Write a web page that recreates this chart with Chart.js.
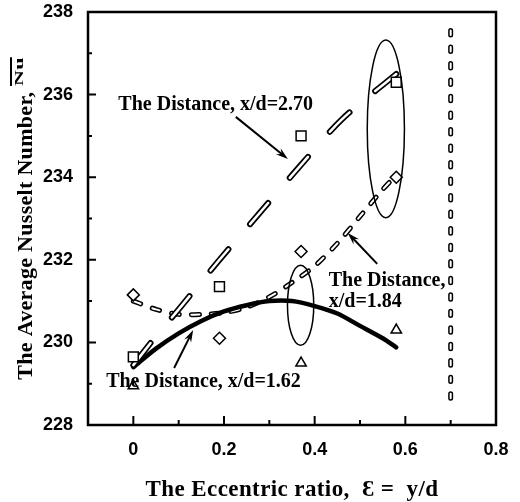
<!DOCTYPE html>
<html>
<head>
<meta charset="utf-8">
<script src="https://cdn.jsdelivr.net/npm/chart.js@4.4.1/dist/chart.umd.min.js"></script>
<style>
  html, body { margin: 0; padding: 0; background: #fff; }
</style>
</head>
<body>
<canvas id="myChart" width="520" height="502"></canvas>
<script>
// eccentric ratio of the measured cases
const ratioX = [0, 0.19, 0.37, 0.58];
const triX = [0, 0.37, 0.58];

// measured average Nusselt numbers
const nu270 = [229.65, 231.35, 235.0, 236.3];   // x/d = 2.70 (squares)
const nu184 = [231.15, 230.1, 232.2, 234.0];    // x/d = 1.84 (diamonds)
const nu162 = [228.95, 229.5, 230.3];           // x/d = 1.62 (triangles)

// fitted curves
const fitX270 = [0, 0.05, 0.1, 0.19, 0.28, 0.37, 0.46, 0.58];
const fit270 = [229.45, 230.15, 230.8, 232.0, 233.15, 234.3, 235.4, 236.5];
const fitX = [0, 0.05, 0.1, 0.15, 0.2, 0.25, 0.3, 0.35, 0.4, 0.45, 0.5, 0.55, 0.58];
const fit184 = [231.0, 230.8, 230.68, 230.68, 230.72, 230.85, 231.1, 231.45, 231.85, 232.4, 233.05, 233.7, 234.05];
const fit162 = [229.4, 229.85, 230.22, 230.52, 230.75, 230.9, 231.0, 231.0, 230.88, 230.7, 230.4, 230.1, 229.88];

// limit line at y/d = 0.7
const limitX = [0.7, 0.7];
const limitY = [237.55, 228.5];

// axis ticks
const xTicks = [0, 0.2, 0.4, 0.6, 0.8];
const xMinor = [0.1, 0.3, 0.5, 0.7];
const yTicks = [228, 230, 232, 234, 236, 238];
const yMinor = [229, 231, 233, 235, 237];

const xTitle = 'The Eccentric ratio,  \u0190 =  y/d';
const yTitle = 'The Average Nusselt Number, ';
const yTitleSym = 'Nu';

const pts = (xs, ys) => xs.map((v, i) => ({x: v, y: ys[i]}));
const serif = '"Liberation Serif", "Times New Roman", serif';

// outlined dashes: a wide black stroke with a narrow white one on top
function outlinedLine(data, dash, outer, inner, order) {
    const base = {
        data: data, showLine: true, pointRadius: 0, tension: 0.3,
        borderCapStyle: 'round', borderDash: dash, fill: false
    };
    return [
        Object.assign({}, base, {borderColor: '#000', borderWidth: outer, order: order + 1}),
        Object.assign({}, base, {borderColor: '#fff', borderWidth: inner, order: order})
    ];
}

// annotations, in data units
const notes = [
    {text: 'The Distance, x/d=2.70', x: -0.033, y: 235.63},
    {text: 'The Distance,', x: 0.431, y: 231.37},
    {text: 'x/d=1.84', x: 0.431, y: 230.86},
    {text: 'The Distance, x/d=1.62', x: -0.06, y: 228.92}
];
const arrows = [
    {from: [0.226, 235.46], to: [0.341, 234.44]},
    {from: [0.538, 231.9], to: [0.473, 232.65]},
    {from: [0.09, 229.38], to: [0.132, 230.3]}
];
const rings = [
    {x: 0.557, y: 235.17, rx: 0.041, ry: 2.15},
    {x: 0.369, y: 230.9, rx: 0.029, ry: 0.97}
];

const decorations = {
    id: 'decorations',
    afterDraw(chart) {
        const {ctx, chartArea: a, scales: {x, y}} = chart;
        ctx.save();
        ctx.strokeStyle = '#000';
        ctx.fillStyle = '#000';

        // frame
        ctx.lineWidth = 2.5;
        ctx.strokeRect(a.left, a.top, a.right - a.left, a.bottom - a.top);

        // inward tick marks
        ctx.lineWidth = 2;
        ctx.beginPath();
        xTicks.forEach(v => { const p = x.getPixelForValue(v); ctx.moveTo(p, a.bottom); ctx.lineTo(p, a.bottom - 9); });
        xMinor.forEach(v => { const p = x.getPixelForValue(v); ctx.moveTo(p, a.bottom); ctx.lineTo(p, a.bottom - 5); });
        yTicks.forEach(v => { const p = y.getPixelForValue(v); ctx.moveTo(a.left, p); ctx.lineTo(a.left + 8, p); });
        yMinor.forEach(v => { const p = y.getPixelForValue(v); ctx.moveTo(a.left, p); ctx.lineTo(a.left + 4, p); });
        ctx.stroke();

        // ellipses round the groups
        ctx.lineWidth = 1.5;
        rings.forEach(r => {
            const cx = x.getPixelForValue(r.x), cy = y.getPixelForValue(r.y);
            const rx = Math.abs(x.getPixelForValue(r.x + r.rx) - cx);
            const ry = Math.abs(y.getPixelForValue(r.y + r.ry) - cy);
            ctx.beginPath();
            ctx.ellipse(cx, cy, rx, ry, 0, 0, Math.PI * 2);
            ctx.stroke();
        });

        // arrows
        ctx.lineWidth = 2;
        arrows.forEach(ar => {
            const x0 = x.getPixelForValue(ar.from[0]), y0 = y.getPixelForValue(ar.from[1]);
            const x1 = x.getPixelForValue(ar.to[0]), y1 = y.getPixelForValue(ar.to[1]);
            const ang = Math.atan2(y1 - y0, x1 - x0);
            ctx.beginPath();
            ctx.moveTo(x0, y0);
            ctx.lineTo(x1 - 6 * Math.cos(ang), y1 - 6 * Math.sin(ang));
            ctx.stroke();
            ctx.beginPath();
            ctx.moveTo(x1, y1);
            ctx.lineTo(x1 - 13 * Math.cos(ang - 0.3), y1 - 13 * Math.sin(ang - 0.3));
            ctx.lineTo(x1 - 8 * Math.cos(ang), y1 - 8 * Math.sin(ang));
            ctx.lineTo(x1 - 13 * Math.cos(ang + 0.3), y1 - 13 * Math.sin(ang + 0.3));
            ctx.closePath();
            ctx.fill();
        });

        // annotation labels
        ctx.font = 'bold 20px ' + serif;
        ctx.textAlign = 'left';
        ctx.textBaseline = 'alphabetic';
        notes.forEach(n => ctx.fillText(n.text, x.getPixelForValue(n.x), y.getPixelForValue(n.y)));

        // x axis title
        ctx.font = 'bold 23px ' + serif;
        ctx.letterSpacing = '0.4px';
        ctx.textAlign = 'center';
        ctx.fillText(xTitle, (a.left + a.right) / 2, 496);

        // y axis title, with the overlined symbol at its end
        ctx.translate(32, (a.top + a.bottom) / 2);
        ctx.rotate(-Math.PI / 2);
        ctx.font = 'bold 22px ' + serif;
        ctx.letterSpacing = '0.3px';
        const wMain = ctx.measureText(yTitle).width;
        const wSym = ctx.measureText(yTitleSym).width;
        const start = -(wMain + wSym) / 2;
        ctx.textAlign = 'left';
        ctx.fillText(yTitle, start, 0);
        ctx.save();
        ctx.translate(start + wMain, -9);
        ctx.scale(1, 0.6);
        ctx.fillText(yTitleSym, 0, 0);
        ctx.restore();
        ctx.fillRect(start + wMain, -22, wSym, 2);

        ctx.restore();
    }
};

const tickFont = {family: '"Liberation Sans", Arial, sans-serif', weight: 'bold', size: 18};

new Chart(document.getElementById('myChart'), {
    type: 'scatter',
    data: {
        datasets: [
            {data: pts(ratioX, nu270), pointStyle: 'rect', pointRadius: 7, borderColor: '#000', backgroundColor: '#fff', borderWidth: 1.5, order: 1},
            {data: pts(ratioX, nu184), pointStyle: 'rectRot', pointRadius: 6, borderColor: '#000', backgroundColor: '#fff', borderWidth: 1.5, order: 1},
            {data: pts(triX, nu162), pointStyle: 'triangle', pointRadius: 6, borderColor: '#000', backgroundColor: '#fff', borderWidth: 1.5, order: 1},
            {data: pts(fitX, fit162), showLine: true, pointRadius: 0, tension: 0.3, borderColor: '#000', borderWidth: 4.5, borderCapStyle: 'round', order: 4},
            ...outlinedLine(pts(fitX270, fit270), [28, 33], 6, 2.5, 2),
            ...outlinedLine(pts(fitX, fit184), [8, 12], 5, 2, 6),
            ...outlinedLine(pts(limitX, limitY), [4.5, 12], 5, 2, 8)
        ]
    },
    options: {
        responsive: false,
        animation: false,
        layout: {padding: {left: 0, right: 24, top: 12, bottom: 0}},
        plugins: {legend: {display: false}, tooltip: {enabled: false}},
        scales: {
            x: {
                type: 'linear', min: -0.1, max: 0.8,
                afterBuildTicks: s => { s.ticks = xTicks.map(v => ({value: v})); },
                afterFit: s => { s.height = 77; s.paddingLeft = 0; s.paddingRight = 0; },
                grid: {display: false, drawTicks: false},
                border: {display: false},
                ticks: {font: tickFont, color: '#000', padding: 14, maxRotation: 0, callback: v => String(v)}
            },
            y: {
                type: 'linear', min: 228, max: 238,
                afterBuildTicks: s => { s.ticks = yTicks.map(v => ({value: v})); },
                afterFit: s => { s.width = 88; s.paddingTop = 0; s.paddingBottom = 0; },
                grid: {display: false, drawTicks: false},
                border: {display: false},
                ticks: {font: tickFont, color: '#000', padding: 15, callback: v => String(v)}
            }
        }
    },
    plugins: [decorations]
});
</script>
</body>
</html>
